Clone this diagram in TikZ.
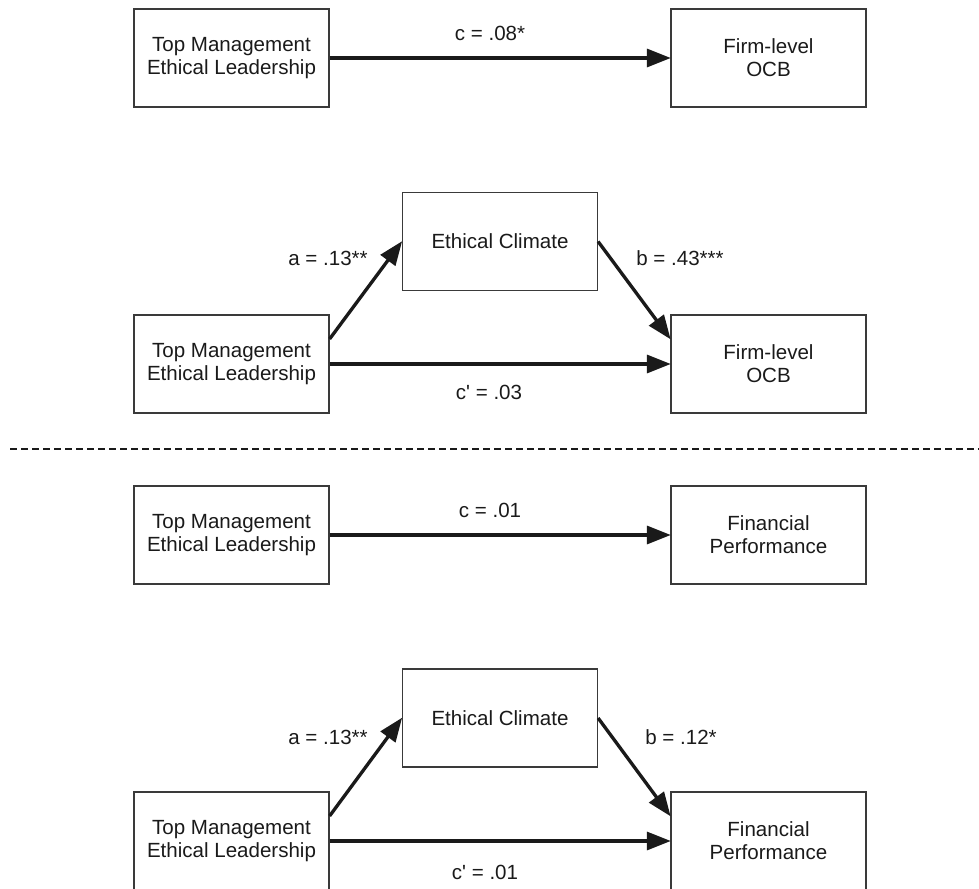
\documentclass[tikz,border=0pt]{standalone}
\usepackage{fontspec}
\setmainfont{Liberation Sans}
\usetikzlibrary{arrows.meta,calc}
\definecolor{boxline}{HTML}{3A3A3A}
\definecolor{txt}{HTML}{1A1A1A}
\begin{document}
\begin{tikzpicture}[x=0.75pt,y=-0.75pt,
  font=\fontsize{15.4pt}{17.25pt}\selectfont,
  every node/.style={text=txt},
  varbox/.style={draw=boxline,line width=0.9pt,rectangle,minimum width=146.25pt,minimum height=73.5pt,inner sep=0pt,align=center,fill=white},
  patharrow/.style={line width=2.5pt,color=txt,-{Triangle[length=18pt,width=13.5pt]},shorten >=-0.3pt},
  coef/.style={inner sep=0pt}]
\useasboundingbox (0,0) rectangle (979,889);
% Panel 1
\node[varbox] (tl1) at (231.5,58) {Top Management\\Ethical Leadership};
\node[varbox] (r1) at (768.5,58) {Firm-level\\OCB};
\draw[patharrow] (tl1.east) -- (r1.west);
\node[coef] at (490,33) {c = .08*};
% Panel 2
\node[varbox] (ec2) at (500,241.5) {Ethical Climate};
\node[varbox] (tl2) at (231.5,364) {Top Management\\Ethical Leadership};
\node[varbox] (r2) at (768.5,364) {Firm-level\\OCB};
\draw[patharrow] ($(tl2.east)+(0,-25)$) -- (ec2.west);
\draw[patharrow] (ec2.east) -- ($(r2.west)+(0,-25)$);
\draw[patharrow] (tl2.east) -- (r2.west);
\node[coef] at (328,258) {a = .13**};
\node[coef] at (680,258) {b = .43***};
\node[coef] at (489,392) {c\textquotesingle{} = .03};
% Divider
\coordinate (dl) at (10,449);
\coordinate (dr) at (979,449);
\draw[line width=2.2pt,color=txt,dash pattern=on 5.4pt off 2.85pt] (dl) -- (dr);
% Panel 3
\node[varbox] (tl3) at (231.5,535) {Top Management\\Ethical Leadership};
\node[varbox] (r3) at (768.5,535) {Financial\\Performance};
\draw[patharrow] (tl3.east) -- (r3.west);
\node[coef] at (490,510) {c = .01};
% Panel 4
\node[varbox] (ec4) at (500,718) {Ethical Climate};
\node[varbox] (tl4) at (231.5,841) {Top Management\\Ethical Leadership};
\node[varbox] (r4) at (768.5,841) {Financial\\Performance};
\draw[patharrow] ($(tl4.east)+(0,-25)$) -- (ec4.west);
\draw[patharrow] (ec4.east) -- ($(r4.west)+(0,-25)$);
\draw[patharrow] (tl4.east) -- (r4.west);
\node[coef] at (328,737) {a = .13**};
\node[coef] at (681,737) {b = .12*};
\node[coef] at (485,872) {c\textquotesingle{} = .01};
\end{tikzpicture}
\end{document}
